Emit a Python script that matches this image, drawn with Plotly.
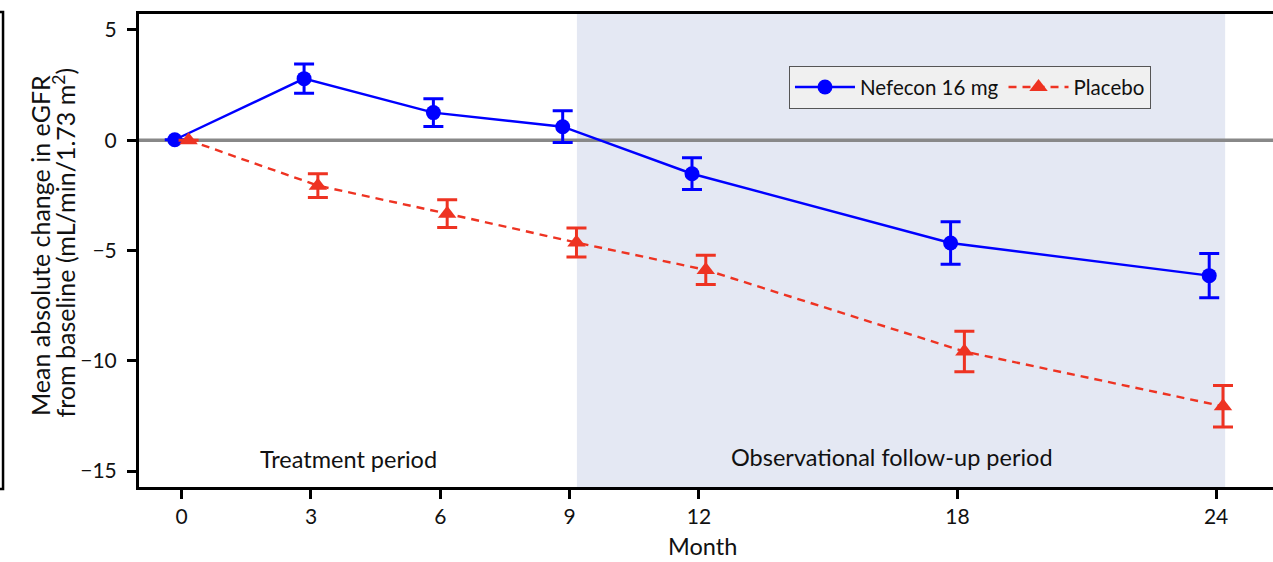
import plotly.graph_objects as go

months = [0, 3, 6, 9, 12, 18, 24]
tick_labels = ["0", "3", "6", "9", "12", "18", "24"]
y_ticks = [5, 0, -5, -10, -15]
y_tick_labels = ["5", "0", "\u22125", "\u221210", "\u221215"]

nefecon_mean = [0.02, 2.79, 1.25, 0.61, -1.52, -4.66, -6.14]
nefecon_err = [0.0, 0.66, 0.63, 0.72, 0.72, 0.96, 1.0]

placebo_mean = [0.0, -2.06, -3.33, -4.64, -5.88, -9.58, -12.06]
placebo_err = [0.0, 0.54, 0.63, 0.66, 0.66, 0.92, 0.94]

offset = 0.16
FONT = "Lato"
BLUE = "#0000ff"
RED = "#ee3322"
TXT = "#111111"

fig = go.Figure()

fig.add_trace(go.Scatter(
    x=[m - offset for m in months], y=nefecon_mean,
    mode="lines+markers", name="Nefecon 16 mg",
    line=dict(color=BLUE, width=2.4),
    marker=dict(symbol="circle", size=15, color=BLUE),
    error_y=dict(type="data", array=nefecon_err, visible=True,
                 color=BLUE, thickness=3, width=10),
))
fig.add_trace(go.Scatter(
    x=[m + offset for m in months], y=placebo_mean,
    mode="lines+markers", name="Placebo",
    line=dict(color=RED, width=2.4, dash="8px,6px"),
    marker=dict(symbol="triangle-up", size=16, color=RED),
    error_y=dict(type="data", array=placebo_err, visible=True,
                 color=RED, thickness=3, width=10),
))

shapes = [
    dict(type="rect", xref="x", yref="paper", x0=9.17, x1=24.21, y0=0, y1=1,
         fillcolor="rgb(228,232,243)", line=dict(width=0), layer="below"),
    dict(type="line", xref="paper", yref="y", x0=0, x1=1, y0=0, y1=0,
         line=dict(color="#888888", width=3.5), layer="below"),
    dict(type="path", xref="paper", yref="paper",
         path="M -0.1226,1.004 L -0.1199,1.004 L -0.1199,-0.0042 L -0.1226,-0.0042",
         line=dict(color="black", width=2.5)),
]

annotations = [
    dict(text="Treatment period", x=3.86, y=-14.43, xref="x", yref="y",
         showarrow=False, font=dict(family=FONT, size=23.5, color=TXT)),
    dict(text="Observational follow-up period", x=16.48, y=-14.34, xref="x", yref="y",
         showarrow=False, font=dict(family=FONT, size=23.5, color=TXT)),
    dict(text="Mean absolute change in eGFR",
         x=-0.0873, y=0.5095, xref="paper", yref="paper", textangle=-90,
         xanchor="center", yanchor="middle",
         showarrow=False, font=dict(family=FONT, size=25, color=TXT)),
    dict(text="from baseline (mL/min/1.73 m<sup>2</sup>)",
         x=-0.0661, y=0.517, xref="paper", yref="paper", textangle=-90,
         xanchor="center", yanchor="middle",
         showarrow=False, font=dict(family=FONT, size=25, color=TXT)),
    dict(text="Month", x=0.4965, y=-0.1247, xref="paper", yref="paper",
         xanchor="center", yanchor="middle",
         showarrow=False, font=dict(family=FONT, size=23.5, color=TXT)),
]

fig.update_layout(
    width=1273, height=562,
    margin=dict(l=139, r=0, t=14, b=75, autoexpand=False),
    plot_bgcolor="white", paper_bgcolor="white",
    font=dict(family=FONT, size=21, color=TXT),
    shapes=shapes, annotations=annotations,
    showlegend=True,
    legend=dict(orientation="h", x=0.573, y=0.89, xanchor="left", yanchor="top",
                bgcolor="#f0f0f0", bordercolor="#555555", borderwidth=1.2,
                font=dict(family=FONT, size=20.5, color=TXT),
                itemwidth=60, entrywidth=0, tracegroupgap=0),
    xaxis=dict(range=[-0.99, 25.32], tickmode="array", tickvals=months,
               ticktext=tick_labels, ticks="outside", ticklen=9, tickwidth=3,
               tickcolor="black", showline=True, linecolor="black", linewidth=3,
               mirror=True, showgrid=False, zeroline=False,
               tickfont=dict(family=FONT, size=21)),
    yaxis=dict(range=[-15.72, 5.72], tickmode="array", tickvals=y_ticks,
               ticktext=y_tick_labels,
               ticks="outside", ticklen=9, tickwidth=3, tickcolor="black",
               ticklabelstandoff=6,
               showline=True, linecolor="black", linewidth=3, mirror=False,
               showgrid=False, zeroline=False,
               tickfont=dict(family=FONT, size=21)),
)

fig.write_html("out.html", config={"displayModeBar": False},
               post_script="document.body.style.margin='0';document.body.style.overflow='hidden';")
